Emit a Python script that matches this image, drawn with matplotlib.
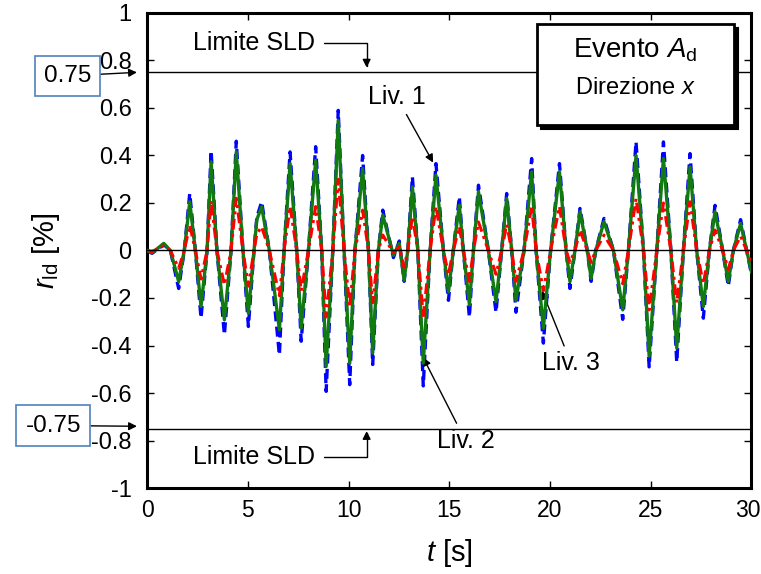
import matplotlib
matplotlib.use("Agg")
import matplotlib.pyplot as plt
from matplotlib.patches import Rectangle
import matplotlib.transforms as mtransforms

plt.rcParams['font.family'] = ['Liberation Sans', 'DejaVu Sans']
plt.rcParams['mathtext.fontset'] = 'custom'
plt.rcParams['mathtext.rm'] = 'Liberation Sans'
plt.rcParams['mathtext.it'] = 'Liberation Sans:italic'
plt.rcParams['axes.unicode_minus'] = False

# ---- data (time in s, drift in %) ----
t_s = [0.0, 0.25, 0.83, 1.16, 1.57, 1.85, 2.12, 2.4, 2.68, 2.98, 3.18, 3.47, 3.84, 4.17,
       4.43, 4.76, 5.03, 5.31, 5.45, 5.69, 6.07, 6.57, 6.8, 7.1, 7.43, 7.65, 8.01, 8.37,
       8.67, 8.89, 9.22, 9.49, 9.78, 10.06, 10.32, 10.7, 10.99, 11.2, 11.48, 11.7, 12.23,
       12.52, 12.76, 12.94, 13.17, 13.44, 13.71, 14.05, 14.34, 14.71, 14.96, 15.2, 15.5,
       15.7, 16.0, 16.2, 16.45, 16.94, 17.32, 17.6, 17.85, 18.1, 18.31, 18.71, 19.09,
       19.31, 19.67, 20.03, 20.47, 20.8, 20.99, 21.24, 21.49, 21.85, 22.04, 22.27, 22.68,
       23.15, 23.61, 23.89, 24.27, 24.64, 24.92, 25.3, 25.63, 26.0, 26.29, 26.62, 26.95,
       27.28, 27.61, 27.91, 28.19, 28.57, 28.85, 29.1, 29.46, 29.76, 30.0]

liv1 = [0.0, -0.012, 0.025, 0.0, -0.16, 0.0, 0.24, 0.0, -0.285, 0.0, 0.42, 0.0, -0.355, 0.0,
        0.46, 0.0, -0.32, 0.0, 0.14, 0.205, 0.0, -0.44, 0.0, 0.415, 0.0, -0.382, 0.0, 0.437,
        0.0, -0.593, 0.0, 0.59, 0.0, -0.565, 0.0, 0.40, 0.0, -0.48, 0.0, 0.17, -0.03,
        0.04, -0.13, 0.0, 0.31, 0.0, -0.57, 0.0, 0.366, 0.0, -0.21, 0.0, 0.226,
        0.0, -0.28, 0.0, 0.275, 0.0, -0.26, 0.0, 0.24, 0.0, -0.26, 0.0, 0.387,
        0.0, -0.39, 0.0, 0.366, 0.0, -0.16, 0.0, 0.177, 0.0, -0.13, 0.0, 0.135,
        0.0, -0.29, 0.0, 0.457, 0.0, -0.49, 0.0, 0.457, 0.0, -0.47, 0.0, 0.408,
        0.0, -0.285, 0.0, 0.19, 0.0, -0.15, 0.0, 0.13, 0.0, -0.1]

liv2 = [0.0, -0.01, 0.03, 0.0, -0.131, 0.0, 0.205, 0.0, -0.236, 0.0, 0.373, 0.0, -0.292, 0.0,
        0.415, 0.0, -0.264, 0.0, 0.13, 0.184, 0.0, -0.334, 0.0, 0.366, 0.0, -0.327, 0.0, 0.38,
        0.0, -0.488, 0.0, 0.548, 0.0, -0.474, 0.0, 0.345, 0.0, -0.432, 0.0, 0.149, -0.02,
        0.03, -0.125, 0.0, 0.268, 0.0, -0.474, 0.0, 0.317, 0.0, -0.175, 0.0, 0.191,
        0.0, -0.229, 0.0, 0.247, 0.0, -0.215, 0.0, 0.219, 0.0, -0.21, 0.0, 0.331,
        0.0, -0.327, 0.0, 0.331, 0.0, -0.131, 0.0, 0.163, 0.0, -0.118, 0.0, 0.121,
        0.0, -0.25, 0.0, 0.40, 0.0, -0.445, 0.0, 0.387, 0.0, -0.41, 0.0, 0.352,
        0.0, -0.236, 0.0, 0.163, 0.0, -0.131, 0.0, 0.114, 0.0, -0.09]

liv3 = [0.0, -0.005, 0.02, 0.0, -0.075, 0.0, 0.107, 0.0, -0.12, 0.0, 0.21, 0.0, -0.145, 0.0,
        0.22, 0.0, -0.15, 0.0, 0.07, 0.10, 0.0, -0.19, 0.0, 0.185, 0.0, -0.17, 0.0, 0.185,
        0.0, -0.28, 0.0, 0.30, 0.0, -0.236, 0.0, 0.17, 0.0, -0.22, 0.0, 0.065, -0.01,
        0.015, -0.07, 0.0, 0.143, 0.0, -0.28, 0.0, 0.185, 0.0, -0.10, 0.0, 0.10,
        0.0, -0.13, 0.0, 0.12, 0.0, -0.10, 0.0, 0.11, 0.0, -0.13, 0.0, 0.185,
        0.0, -0.17, 0.0, 0.185, 0.0, -0.05, 0.0, 0.086, 0.0, -0.05, 0.0, 0.065,
        0.0, -0.14, 0.0, 0.219, 0.0, -0.25, 0.0, 0.20, 0.0, -0.22, 0.0, 0.205,
        0.0, -0.14, 0.0, 0.086, 0.0, -0.08, 0.0, 0.06, 0.0, -0.05]

limit_sld = 0.75
x_ticks = [0, 5, 10, 15, 20, 25, 30]
y_ticks = [1, 0.8, 0.6, 0.4, 0.2, 0, -0.2, -0.4, -0.6, -0.8, -1]
y_tick_labels = ['1', '0.8', '0.6', '0.4', '0.2', '0', '-0.2', '-0.4', '-0.6', '-0.8', '-1']

# ---- figure ----
fig = plt.figure(figsize=(7.61, 5.74), dpi=100)
ax = fig.add_axes([0.1932, 0.1498, 0.7943, 0.8276])

ax.plot(t_s, liv1, color='#0000ff', lw=2.4, ls=(0, (3.0, 1.6)), zorder=3)
ax.plot(t_s, liv2, color='#117a11', lw=2.4, ls='-', zorder=4)
ax.plot(t_s, liv3, color='#ff0000', lw=2.2, ls=(0, (3.5, 1.5, 1.0, 1.5)), zorder=5)

ax.axhline(0, color='black', lw=1.0, zorder=6)
ax.axhline(limit_sld, color='black', lw=1.0, zorder=2)
ax.axhline(-limit_sld, color='black', lw=1.0, zorder=2)

ax.set_xlim(0, 30)
ax.set_ylim(-1, 1)
ax.set_xticks(x_ticks)
ax.set_xticklabels([str(v) for v in x_ticks])
ax.set_yticks(y_ticks)
ax.set_yticklabels(y_tick_labels)
ax.tick_params(direction='in', top=True, right=True, length=5, width=1.0,
               labelsize=17)
ax.tick_params(axis='y', pad=11)
ax.tick_params(axis='x', pad=8, labelsize=16.5)
for sp in ax.spines.values():
    sp.set_linewidth(2.2)

# keep the last x tick label inside the canvas
last_lbl = ax.get_xticklabels()[-1]
last_lbl.set_transform(last_lbl.get_transform() +
                       mtransforms.ScaledTranslation(-4 / 100, 0, fig.dpi_scale_trans))

ax.set_xlabel('$t$ [s]', fontsize=21, labelpad=11)
ax.set_ylabel(r'$r_{\mathrm{ld}}$ [%]', fontsize=21, labelpad=21)

arrow_kw = dict(arrowstyle='-|>', color='black', lw=1.0, mutation_scale=12,
                shrinkA=2, shrinkB=0)
sld_arrow = dict(arrowstyle='-|>', color='black', lw=1.0, mutation_scale=12,
                 shrinkA=5, shrinkB=0,
                 connectionstyle='angle,angleA=0,angleB=90,rad=0')

# Limite SLD (top and bottom)
ax.annotate('Limite SLD', xy=(10.9, 0.77), xytext=(2.27, 0.875), fontsize=18,
            ha='left', va='center', annotation_clip=False, arrowprops=sld_arrow)
ax.annotate('Limite SLD', xy=(10.9, -0.76), xytext=(2.27, -0.87), fontsize=18,
            ha='left', va='center', annotation_clip=False, arrowprops=sld_arrow)

# level labels
ax.annotate('Liv. 1', xy=(14.2, 0.37), xytext=(12.4, 0.645), fontsize=18,
            ha='center', va='center', arrowprops=arrow_kw)
ax.annotate('Liv. 2', xy=(13.7, -0.45), xytext=(15.8, -0.80), fontsize=18,
            ha='center', va='center', arrowprops=arrow_kw)
ax.annotate('Liv. 3', xy=(19.6, -0.17), xytext=(21.05, -0.475), fontsize=18,
            ha='center', va='center', arrowprops=arrow_kw)

# boxed limit values on the left
box_kw = dict(boxstyle='square,pad=0.38', fc='white', ec='#4f81bd', lw=1.2)
ax.annotate('0.75', xy=(-0.5, 0.75), xytext=(-3.95, 0.735), fontsize=17.5,
            ha='center', va='center', bbox=box_kw, annotation_clip=False,
            arrowprops=dict(arrowstyle='-|>', color='black', lw=1.0, mutation_scale=12,
                            shrinkA=0, shrinkB=0))
ax.annotate('-0.75', xy=(-0.5, -0.74), xytext=(-4.65, -0.737), fontsize=17.5,
            ha='center', va='center', bbox=box_kw, annotation_clip=False,
            arrowprops=dict(arrowstyle='-|>', color='black', lw=1.0, mutation_scale=12,
                            shrinkA=0, shrinkB=0))

# event box (top right) with shadow
x0, x1, y0, y1 = 19.35, 29.15, 0.53, 0.955
shadow = mtransforms.offset_copy(ax.transData, fig=fig, x=4, y=-4, units='dots')
ax.add_patch(Rectangle((x0, y0), x1 - x0, y1 - y0, transform=shadow,
                       fc='black', ec='black', lw=1.5, zorder=7, clip_on=False))
ax.add_patch(Rectangle((x0, y0), x1 - x0, y1 - y0, fc='white', ec='black',
                       lw=2.0, zorder=8, clip_on=False))
ax.text((x0 + x1) / 2, 0.843, r'Evento $A_{\mathrm{d}}$', fontsize=20,
        ha='center', va='center', zorder=9)
ax.text((x0 + x1) / 2, 0.683, 'Direzione $x$', fontsize=17,
        ha='center', va='center', zorder=9)

fig.savefig('out.png', dpi=100)
